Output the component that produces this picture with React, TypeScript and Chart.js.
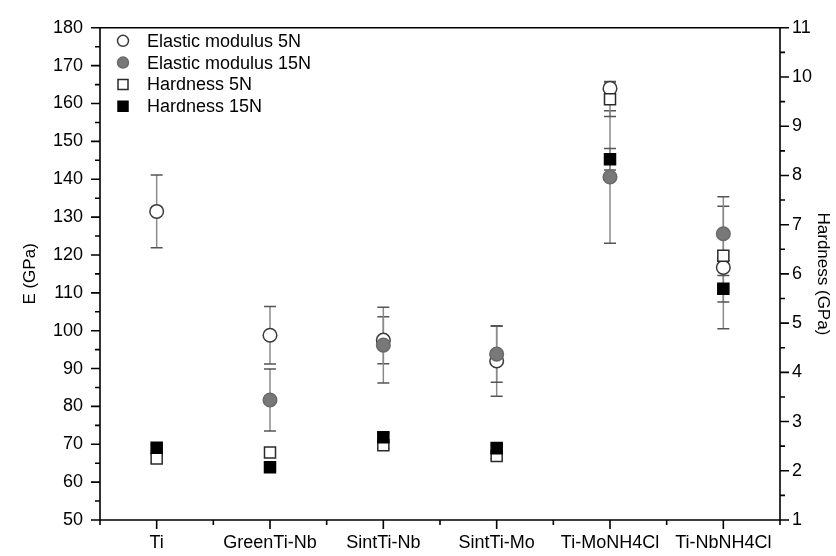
import React, { useEffect, useRef } from 'react';
import { Chart, registerables } from 'chart.js';

Chart.register(...registerables);

const categories = ['Ti', 'GreenTi-Nb', 'SintTi-Nb', 'SintTi-Mo', 'Ti-MoNH4Cl', 'Ti-NbNH4Cl'];
const modulus5N = [131.5, 98.8, 97.5, 92, 164, 116.7];
const modulus5NErr = [9.6, 7.6, 6.2, 9.3, 1.8, 16.2];
const modulus15N = [null, 81.7, 96.2, 93.8, 140.6, 125.6];
const modulus15NErr = [null, 8.2, 10, 7.4, 17.5, 9.8];
const hardness5N = [2.25, 2.37, 2.52, 2.3, 9.55, 6.37];
const hardness5NErr = [0.08, 0.08, 0.06, 0.06, 0.35, 0.1];
const hardness15N = [2.47, 2.07, 2.68, 2.46, 8.33, 5.7];
const hardness15NErr = [0.06, 0.06, 0.08, 0.06, 0.22, 0.27];
const legendLabels = ['Elastic modulus 5N', 'Elastic modulus 15N', 'Hardness 5N', 'Hardness 15N'];

const FONT = "'Liberation Sans', Arial, Helvetica, sans-serif";

const toPoints = (vals: (number | null)[]) =>
  vals.map((v, i) => (v === null ? null : { x: i, y: v })).filter((p) => p !== null);

const errorBarPlugin = {
  id: 'errorBars',
  beforeDatasetsDraw(chart: any) {
    const ctx = chart.ctx;
    const xs = chart.scales.x;
    chart.data.datasets.forEach((ds: any) => {
      const ys = chart.scales[ds.yAxisID];
      const vals = ds.values as (number | null)[];
      const errs = ds.errors as (number | null)[];
      vals.forEach((v, i) => {
        const e = errs[i];
        if (v === null || e === null || e === undefined) return;
        const px = xs.getPixelForValue(i);
        const top = ys.getPixelForValue(v + e);
        const bot = ys.getPixelForValue(v - e);
        ctx.save();
        ctx.strokeStyle = '#8a8a8a';
        ctx.lineWidth = 1.5;
        ctx.beginPath();
        ctx.moveTo(px, top);
        ctx.lineTo(px, bot);
        ctx.stroke();
        ctx.strokeStyle = '#555';
        ctx.beginPath();
        ctx.moveTo(px - 6, top);
        ctx.lineTo(px + 6, top);
        ctx.moveTo(px - 6, bot);
        ctx.lineTo(px + 6, bot);
        ctx.stroke();
        ctx.restore();
      });
    });
  },
};

const axesPlugin = {
  id: 'axesFrame',
  afterDraw(chart: any) {
    const ctx = chart.ctx;
    const { left, right, top, bottom } = chart.chartArea;
    const y = chart.scales.y;
    const y1 = chart.scales.y1;
    const x = chart.scales.x;
    ctx.save();
    ctx.strokeStyle = '#000';
    ctx.lineWidth = 1.6;
    ctx.beginPath();
    ctx.moveTo(left, top);
    ctx.lineTo(right, top);
    ctx.moveTo(left, top);
    ctx.lineTo(left, bottom);
    ctx.moveTo(right, top);
    ctx.lineTo(right, bottom);
    ctx.moveTo(left - 9, bottom);
    ctx.lineTo(right + 9, bottom);
    for (let v = y.min; v <= y.max + 0.001; v += 5) {
      const p = y.getPixelForValue(v);
      const len = Math.round(v) % 10 === 0 ? 9 : 5;
      ctx.moveTo(left - len, p);
      ctx.lineTo(left, p);
    }
    for (let v = y1.min; v <= y1.max + 0.001; v += 0.5) {
      const p = y1.getPixelForValue(v);
      const len = Math.abs(v - Math.round(v)) < 0.01 ? 9 : 5;
      ctx.moveTo(right, p);
      ctx.lineTo(right + len, p);
    }
    for (let v = x.min; v <= x.max + 0.001; v += 0.5) {
      const p = x.getPixelForValue(v);
      const len = Math.abs(v - Math.round(v)) < 0.01 ? 9 : 5;
      ctx.moveTo(p, bottom);
      ctx.lineTo(p, bottom + len);
    }
    ctx.stroke();
    ctx.restore();
  },
};

const legendPlugin = {
  id: 'insideLegend',
  afterDraw(chart: any) {
    const ctx = chart.ctx;
    const { left, top } = chart.chartArea;
    const mx = left + 23;
    const tx = left + 47;
    ctx.save();
    ctx.font = `18px ${FONT}`;
    ctx.textBaseline = 'middle';
    ctx.fillStyle = '#000';
    chart.data.datasets.forEach((ds: any, i: number) => {
      const yy = top + 13 + i * 21.8;
      ctx.lineWidth = 1.5;
      ctx.strokeStyle = ds.borderColor;
      ctx.fillStyle = ds.backgroundColor;
      ctx.beginPath();
      if (ds.pointStyle === 'circle') {
        ctx.arc(mx, yy, 5.5, 0, Math.PI * 2);
      } else {
        ctx.rect(mx - 5, yy - 5, 10, 10);
      }
      ctx.fill();
      ctx.stroke();
      ctx.fillStyle = '#000';
      ctx.fillText(ds.label, tx, yy + 1);
    });
    ctx.restore();
  },
};

export default function App() {
  const ref = useRef<HTMLCanvasElement | null>(null);
  useEffect(() => {
    if (!ref.current) return;
    const chart = new Chart(ref.current, {
      type: 'scatter',
      data: {
        datasets: [
          {
            label: legendLabels[0],
            data: toPoints(modulus5N) as any,
            values: modulus5N,
            errors: modulus5NErr,
            yAxisID: 'y',
            pointStyle: 'circle',
            pointRadius: 6.8,
            backgroundColor: '#ffffff',
            borderColor: '#3a3a3a',
            borderWidth: 1.5,
            order: 3,
          } as any,
          {
            label: legendLabels[1],
            data: toPoints(modulus15N) as any,
            values: modulus15N,
            errors: modulus15NErr,
            yAxisID: 'y',
            pointStyle: 'circle',
            pointRadius: 6.8,
            backgroundColor: '#787878',
            borderColor: '#6a6a6a',
            borderWidth: 1.5,
            order: 2,
          } as any,
          {
            label: legendLabels[2],
            data: toPoints(hardness5N) as any,
            values: hardness5N,
            errors: hardness5NErr,
            yAxisID: 'y1',
            pointStyle: 'rect',
            pointRadius: 7.8,
            backgroundColor: '#ffffff',
            borderColor: '#2a2a2a',
            borderWidth: 1.5,
            order: 1,
          } as any,
          {
            label: legendLabels[3],
            data: toPoints(hardness15N) as any,
            values: hardness15N,
            errors: hardness15NErr,
            yAxisID: 'y1',
            pointStyle: 'rect',
            pointRadius: 7.8,
            backgroundColor: '#000000',
            borderColor: '#000000',
            borderWidth: 1.5,
            order: 0,
          } as any,
        ],
      },
      options: {
        responsive: false,
        animation: false,
        layout: { padding: { top: 20, left: 0, right: 0, bottom: 0 } },
        plugins: {
          legend: { display: false },
          tooltip: { enabled: false },
        },
        scales: {
          x: {
            type: 'linear',
            min: -0.5,
            max: 5.5,
            afterBuildTicks: (s: any) => {
              s.ticks = categories.map((_, i) => ({ value: i }));
            },
            afterFit: (s: any) => {
              s.height = 36;
            },
            grid: { display: false, drawTicks: false },
            border: { display: false },
            ticks: {
              autoSkip: false,
              maxRotation: 0,
              padding: 12,
              color: '#000',
              font: { family: FONT, size: 18 },
              callback: (v: any) => categories[Math.round(Number(v))] ?? '',
            },
          },
          y: {
            type: 'linear',
            position: 'left',
            min: 50,
            max: 180,
            afterFit: (s: any) => {
              s.width = 100;
            },
            grid: { display: false, drawTicks: false },
            border: { display: false },
            ticks: {
              stepSize: 10,
              padding: 17,
              color: '#000',
              font: { family: FONT, size: 18 },
            },
            title: {
              display: true,
              text: 'E (GPa)',
              color: '#000',
              font: { family: FONT, size: 17 },
              padding: { top: 20, bottom: 0 },
            },
          },
          y1: {
            type: 'linear',
            position: 'right',
            min: 1,
            max: 11,
            afterFit: (s: any) => {
              s.width = 56;
            },
            grid: { display: false, drawTicks: false },
            border: { display: false },
            ticks: {
              stepSize: 1,
              padding: 12,
              color: '#000',
              font: { family: FONT, size: 18 },
            },
            title: {
              display: true,
              text: 'Hardness (GPa)',
              color: '#000',
              font: { family: FONT, size: 17 },
              padding: { top: 3, bottom: 0 },
            },
          },
        },
      } as any,
      plugins: [errorBarPlugin, axesPlugin, legendPlugin],
    });
    return () => chart.destroy();
  }, []);

  return (
    <div style={{ position: 'fixed', left: 0, top: 0, width: 836, height: 556, background: '#fff' }}>
      <canvas ref={ref} width={836} height={556} />
    </div>
  );
}
